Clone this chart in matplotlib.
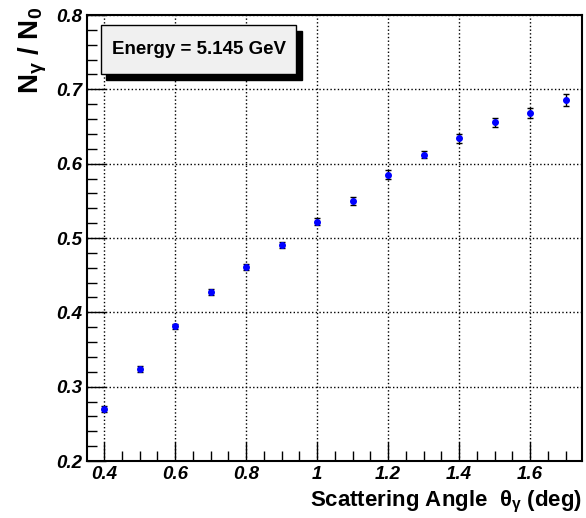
import numpy as np
from matplotlib import pyplot as plt
from matplotlib.patches import Rectangle
from matplotlib.ticker import MultipleLocator

plt.rcParams['font.family'] = ['Liberation Sans', 'DejaVu Sans']
plt.rcParams['mathtext.fontset'] = 'custom'
plt.rcParams['mathtext.rm'] = 'Liberation Sans:bold'
plt.rcParams['mathtext.it'] = 'Liberation Sans:bold'
plt.rcParams['mathtext.bf'] = 'Liberation Sans:bold'

# Data
angle = [0.4, 0.5, 0.6, 0.7, 0.8, 0.9, 1.0, 1.1, 1.2, 1.3, 1.4, 1.5, 1.6, 1.7]
ratio = [0.270, 0.324, 0.381, 0.427, 0.461, 0.491, 0.522, 0.550, 0.585, 0.612,
         0.634, 0.656, 0.668, 0.686]
err = [0.004, 0.004, 0.004, 0.004, 0.004, 0.004, 0.005, 0.005, 0.006, 0.005,
       0.006, 0.006, 0.007, 0.008]

fig = plt.figure(figsize=(5.86, 5.18), dpi=100)
ax = fig.add_axes([0.1485, 0.110, 0.8445, 0.861])

ax.errorbar(angle, ratio, yerr=err, fmt='o', ms=4, color='blue',
            ecolor='black', elinewidth=1, capsize=2.5, capthick=1)

ax.set_xlim(0.352, 1.746)
ax.set_ylim(0.2, 0.8)
ax.xaxis.set_major_locator(MultipleLocator(0.2))
ax.xaxis.set_minor_locator(MultipleLocator(0.05))
ax.yaxis.set_major_locator(MultipleLocator(0.1))
ax.yaxis.set_minor_locator(MultipleLocator(0.02))
ax.set_xticks([0.4, 0.6, 0.8, 1.0, 1.2, 1.4, 1.6])
ax.set_xticklabels(['0.4', '0.6', '0.8', '1', '1.2', '1.4', '1.6'])
ax.grid(True, which='major', color='black', linestyle=':', linewidth=1)
ax.tick_params(which='both', direction='in', top=False, right=False)
ax.tick_params(which='major', length=14, width=1)
ax.tick_params(which='minor', length=7, width=1)
for lab in ax.get_xticklabels() + ax.get_yticklabels():
    lab.set_fontsize(13.5)
    lab.set_fontweight('bold')
    lab.set_fontstyle('italic')
for s in ax.spines.values():
    s.set_linewidth(1.5)

ax.set_xlabel(r'Scattering Angle  $\theta_{\gamma}$ (deg)', fontsize=16,
              fontweight='bold')
ax.xaxis.set_label_coords(1.0, -0.062)
ax.xaxis.label.set_ha('right')
ax.set_ylabel(r'N$_{\gamma}$ / N$_{0}$', fontsize=20, fontweight='bold')
ax.yaxis.set_label_coords(-0.076, 1.018)
ax.yaxis.label.set_ha('right')

# Text box with shadow
ax.add_patch(Rectangle((0.039, 0.854), 0.395, 0.11, transform=ax.transAxes,
                       facecolor='black', edgecolor='black', zorder=4))
ax.add_patch(Rectangle((0.028, 0.867), 0.395, 0.11, transform=ax.transAxes,
                       facecolor='#f0f0f0', edgecolor='black', lw=1, zorder=5))
ax.text(0.2255, 0.922, 'Energy = 5.145 GeV', transform=ax.transAxes,
        ha='center', va='center', fontsize=13.5, fontweight='bold', zorder=6)

fig.savefig('out.png', dpi=100)
